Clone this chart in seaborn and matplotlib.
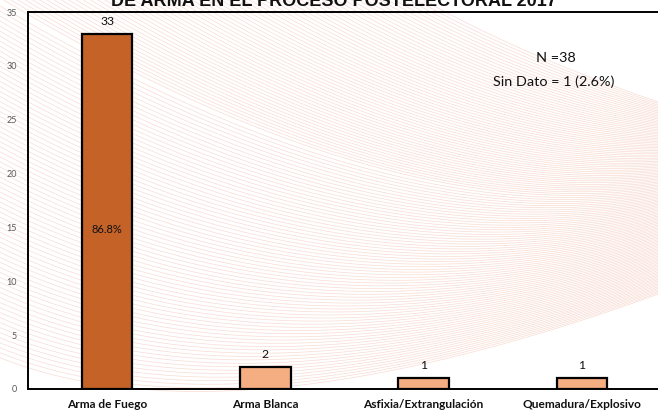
import numpy as np
import pandas as pd
import matplotlib
matplotlib.use("Agg")
import matplotlib.pyplot as plt
import seaborn as sns

categories = ["Arma de Fuego", "Arma Blanca", "Asfixia/Extrangulación", "Quemadura/Explosivo"]
values = [33, 2, 1, 1]
total_n = 38
sin_dato = 1
bar_colors = ["#C46228", "#F4AE82", "#F4AE82", "#F4AE82"]
title = "DE ARMA EN EL PROCESO POSTELECTORAL 2017"

sns.set_theme(style="white")
plt.rcParams["font.family"] = ["Lato", "DejaVu Sans"]

W, H = 658, 413
fig = plt.figure(figsize=(W / 100, H / 100), dpi=100)

# decorative background: fan of thin curves
bg = fig.add_axes([0, 0, 1, 1], zorder=0)
bg.set_xlim(0, W)
bg.set_ylim(H, 0)
bg.axis("off")
n = 130
t = np.linspace(0, 1, 240)
for s in np.linspace(0, 1, n):
    if s < 0.45:
        p0 = np.array([420 - 420 * s / 0.45, -2.0])
    else:
        p0 = np.array([-2.0, (s - 0.45) / 0.55 * 357])
    p2 = np.array([664.0, 104 + 188 * s])
    c = np.array([520 - 290 * s, 55 + 395 * s])
    x = (1 - t) ** 2 * p0[0] + 2 * (1 - t) * t * c[0] + t ** 2 * p2[0]
    y = (1 - t) ** 2 * p0[1] + 2 * (1 - t) * t * c[1] + t ** 2 * p2[1]
    bg.plot(x, y, color="#F5C9BA", lw=0.5, alpha=0.65)

# main axes
ax = fig.add_axes([28 / W, (H - 389) / H, 633 / W, 377 / H], zorder=2)
ax.patch.set_alpha(0)
df = pd.DataFrame({"cat": categories, "val": values})
sns.barplot(data=df, x="cat", y="val", hue="cat", palette=bar_colors,
            width=0.32, edgecolor="black", linewidth=1.6, legend=False, ax=ax,
            saturation=1)
ax.set_xlim(-0.5, 3.5)
ax.set_ylim(0, 35)
ax.set_yticks(range(0, 36, 5))
ax.set_xlabel("")
ax.set_ylabel("")
for sp in ax.spines.values():
    sp.set_visible(True)
    sp.set_color("black")
    sp.set_linewidth(1.4)
ax.tick_params(axis="y", length=0, pad=8, labelsize=6.5, labelcolor="#595959")
ax.tick_params(axis="x", length=0, pad=7, labelsize=8.6, labelcolor="#111111")
for lbl in ax.get_xticklabels():
    lbl.set_fontweight("bold")

for i, v in enumerate(values):
    ax.annotate(str(v), (i, v), xytext=(0, 9), textcoords="offset points",
                ha="center", va="center", fontsize=8.8, color="#111111")
pct = values[0] / total_n * 100
ax.text(0, values[0] * 0.45, f"{pct:.1f}%", ha="center", va="center",
        fontsize=8, color="#111111")

fig.text(556 / W, 1 - 58 / H, f"N ={total_n}", ha="center", va="center",
         fontsize=10.4, color="#111111")
fig.text(554 / W, 1 - 82 / H, f"Sin Dato = {sin_dato} ({sin_dato / total_n * 100:.1f}%)",
         ha="center", va="center", fontsize=10.4, color="#111111")

fig.text(334 / W, 1 - 5.5 / H, title, ha="center", va="baseline",
         fontsize=13, fontweight="bold", family=["Liberation Sans", "DejaVu Sans"],
         color="#111111")

fig.savefig("out.png", dpi=100)
